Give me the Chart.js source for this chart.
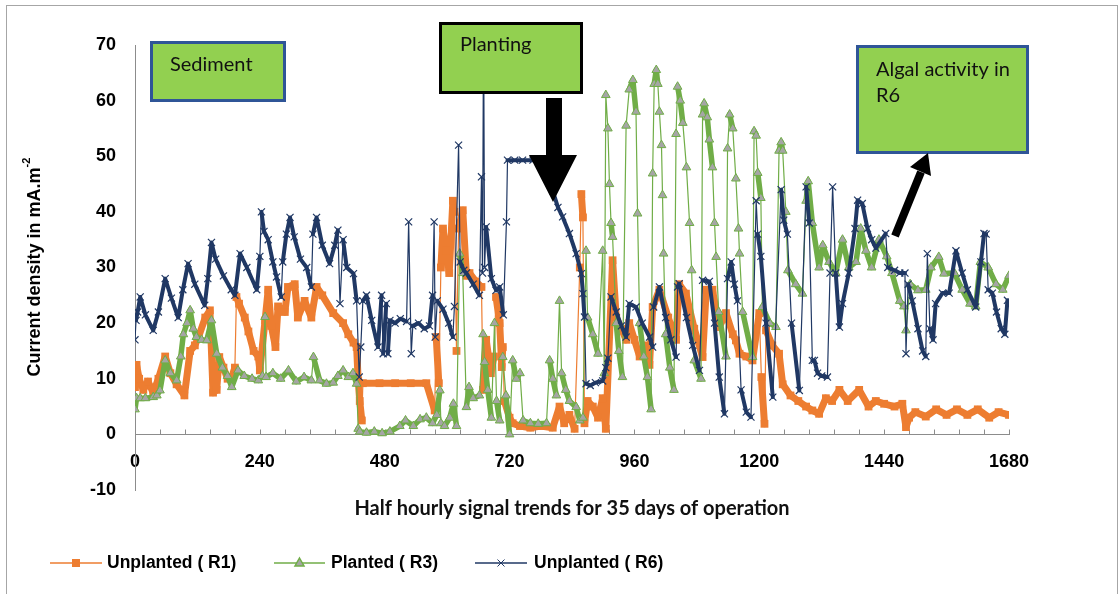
<!DOCTYPE html>
<html>
<head>
<meta charset="utf-8">
<title>Current density - half hourly signal</title>
<script src="https://cdn.jsdelivr.net/npm/chart.js@4.4.1/dist/chart.umd.min.js"></script>
<style>
    html, body { margin: 0; padding: 0; background: #fff; }
    #wrap { position: relative; width: 1120px; height: 594px; }
</style>
</head>
<body>
<div id="wrap"><canvas id="densityChart" width="1120" height="594"></canvas></div>
<script>
    // [half hour index, current density mA.m-2]
    var unplantedR1 = [[0,8.5],[3,12.5],[8,10],[16,8],[25,9.5],[35,7.5],[45,10],[58,14],[68,11],[80,9],[95,7],[106,15],[115,16],[122,17.5],[135,21],[144,22.3],[150,7.5],[157,8],[162,13.9],[170,12],[178,10],[186,10.3],[192,12],[195,24.7],[200,23.5],[211,21],[218,18.5],[228,15],[237,14],[240,11.5],[250,20.5],[256,26],[262,19.5],[270,15.7],[275,23],[288,22],[294,26.5],[307,27],[313,21],[326,24],[339,21],[349,26.5],[360,25],[381,21.8],[400,20],[410,18],[420,16.5],[426,15.7],[429,9.7],[432,6],[436,2.5],[438,9.2],[470,9.2],[500,9.2],[530,9.2],[560,9.2],[576,4.3],[579,17.5],[584,9.2],[588,30],[592,37],[598,33],[604,29],[611,42],[614,40],[618,15],[622,37],[630,40.3],[637,28.5],[643,29],[655,27.5],[666,26.5],[669,8],[675,17],[684,11],[690,14],[694,24.7],[701,20],[705,12.1],[707,15.7],[710,6],[720,3],[726,2],[740,1.5],[760,1.2],[780,1.5],[803,1.2],[816,5],[825,2],[835,3.5],[845,1],[855,30],[858,43.2],[861,39],[864,2],[870,6],[880,5],[890,3],[899,6.5],[905,1],[918,31.3],[925,21],[935,19],[944,17],[950,20],[960,17],[970,14],[980,16],[989,12.5],[995,22.9],[1008,26],[1025,21],[1040,17],[1046,27],[1059,25.3],[1075,19],[1091,13.9],[1098,26],[1110,26],[1123,19.3],[1136,21.8],[1149,18],[1155,16.9],[1162,14.5],[1175,14],[1187,13.3],[1200,21.8],[1204,10.3],[1210,1.9],[1213,18.7],[1225,16],[1238,14.5],[1245,9],[1260,7],[1275,6],[1290,5],[1302,4.3],[1315,3.7],[1328,6.5],[1340,6],[1354,8],[1370,6],[1392,8],[1410,5],[1424,6],[1440,5.5],[1460,5],[1475,5.5],[1482,1.3],[1488,3],[1500,4],[1520,3.2],[1540,4.5],[1560,3.5],[1580,4.5],[1600,3.5],[1620,4.5],[1642,3],[1660,4],[1680,3.5]];

    var plantedR3 = [[0,4.5],[3,6.5],[10,6.5],[20,6.5],[35,6.7],[42,7],[48,7.9],[58,13.3],[68,11],[80,9.7],[88,14],[93,18],[100,20],[106,22.3],[112,19],[118,17.5],[128,17],[138,16.9],[147,20.5],[157,14.5],[168,12],[178,10.5],[186,8.5],[198,11.5],[210,10.5],[225,10],[237,9.7],[245,10.5],[250,21.1],[252,10.3],[265,11],[280,10],[295,11.5],[310,9.5],[325,10.3],[339,9.7],[343,13.9],[355,9.7],[368,9.1],[381,9.3],[390,10.5],[400,11.5],[410,10.3],[419,11],[426,9.1],[429,1],[432,0.5],[445,0.3],[460,0.5],[475,0.2],[490,0.5],[509,1.5],[520,2.5],[535,1.5],[548,2.7],[560,3],[572,2],[580,3.5],[586,7.9],[588,2],[595,1.5],[605,3],[612,5.5],[618,1.5],[624,32.5],[630,29],[637,4.9],[642,8.5],[650,6.5],[662,7],[669,18],[672,13],[678,8],[685,3],[691,20],[695,6],[701,2.5],[707,13.9],[713,7],[720,0],[726,13.3],[733,10],[740,11],[746,2.5],[760,2],[775,1.9],[791,2],[797,13.3],[803,10],[810,7],[816,24],[820,11],[828,8],[835,6],[848,4.9],[855,2.5],[861,3],[867,33],[870,21],[880,18],[890,14.5],[899,33],[902,11],[905,61],[909,55],[912,45],[915,38],[918,35.5],[925,20],[930,15],[937,10.3],[944,55.5],[950,62],[957,63.7],[963,58],[966,39.7],[970,20],[978,14],[985,10.3],[992,4.5],[995,46.9],[998,63],[1002,65.5],[1005,63],[1008,58],[1012,52],[1014,43],[1016,32.5],[1020,18],[1028,12],[1036,8],[1040,54],[1043,62.5],[1048,60],[1053,56],[1060,48],[1066,38],[1070,29.5],[1075,13.3],[1088,10],[1091,57.5],[1094,59.5],[1100,57],[1104,53],[1110,48],[1114,38],[1117,31.9],[1122,22],[1136,14],[1139,51.4],[1143,57.5],[1149,55],[1155,46],[1160,37],[1162,32.5],[1168,22],[1187,13.9],[1190,54.5],[1194,53.7],[1197,47],[1203,42.5],[1206,22.9],[1220,20],[1232,19.3],[1238,51],[1242,52.5],[1245,51],[1251,40],[1255,29.5],[1270,27],[1283,25.3],[1290,42],[1294,45.5],[1302,38],[1315,30],[1322,34],[1334,31],[1347,29],[1360,35],[1372,30],[1386,31],[1395,37],[1405,33],[1416,30],[1430,35],[1445,32],[1455,29],[1470,24],[1478,23],[1482,18.7],[1490,27],[1505,25.9],[1520,26],[1530,30],[1545,31.9],[1555,28.9],[1575,29],[1590,26],[1605,23.5],[1616,23],[1625,31],[1640,30],[1655,27],[1668,26],[1680,28.5]];

    var unplantedR6 = [[0,17],[2,20.5],[5,22],[10,24.7],[20,21.5],[35,18.7],[45,22],[58,28],[70,24.5],[83,21],[92,26],[102,30.7],[115,27],[134,23.2],[140,28],[147,34.5],[155,31.5],[170,28.5],[185,26],[192,25],[202,32.5],[215,30],[234,26],[240,32],[243,40],[248,36.5],[256,35],[265,31],[272,28.3],[281,24.7],[284,31],[291,36],[298,39],[306,35.5],[318,31.5],[330,30],[339,26.5],[342,36],[349,39],[360,34],[374,30.7],[384,34],[390,36.7],[394,23.5],[400,35],[407,30],[420,28.9],[426,24],[431,10.3],[434,15.7],[438,24],[445,25],[455,20.5],[467,15.7],[474,25],[477,14.5],[483,23.5],[486,14.5],[490,20.5],[500,20],[510,20.8],[522,20.3],[526,38.2],[531,14.5],[534,19.5],[545,20],[556,19],[566,19.5],[572,25],[575,38.2],[577,17.5],[581,24],[592,22.5],[603,20],[611,17.5],[614,23],[622,52],[625,31],[632,29.5],[637,29],[650,27],[662,25],[666,46.3],[668,29],[670,75],[672,30],[675,37.3],[685,28],[694,25.9],[701,26.5],[708,21.5],[714,38.2],[716,49.3],[730,49.3],[745,49.3],[765,49.3],[780,49],[803,43.8],[813,40.8],[822,39.1],[835,36.1],[848,32.5],[858,28.9],[861,25.3],[864,21.1],[867,9.1],[875,8.8],[885,9.3],[899,9.6],[905,12],[909,13.7],[915,24.7],[925,22],[935,19.5],[944,17.5],[950,23.5],[963,22.9],[975,20],[989,17.5],[995,15.7],[997,22.9],[1008,26.5],[1020,21],[1030,17],[1040,13.9],[1043,26.5],[1046,27.1],[1060,21],[1072,16],[1085,11.5],[1091,27.7],[1104,27.5],[1114,20],[1123,10.3],[1133,3.7],[1139,28],[1146,31],[1152,27],[1158,24],[1165,8],[1175,4],[1184,3.1],[1194,42],[1197,36],[1203,32],[1213,20],[1226,6.7],[1242,44],[1247,38.5],[1254,36],[1262,20],[1277,7.9],[1290,44.5],[1296,38],[1302,13.3],[1306,13.3],[1312,11],[1320,10.5],[1331,10.3],[1336,29],[1341,44.5],[1347,29],[1354,19.3],[1360,23.5],[1372,29],[1384,37],[1389,42.1],[1398,41.5],[1408,37],[1416,35],[1424,33.5],[1443,36.1],[1447,30],[1460,29.5],[1470,29],[1480,29],[1482,14.5],[1486,27],[1494,24],[1505,19],[1514,15],[1520,14],[1523,32.5],[1528,19],[1534,17],[1539,23.5],[1552,25.4],[1565,25.4],[1578,33],[1590,29],[1600,26],[1616,22.9],[1626,31],[1632,36.1],[1636,36],[1640,26],[1648,25.4],[1656,22],[1665,19],[1672,18],[1677,24.1]];

    var xTickLabels = [0, 240, 480, 720, 960, 1200, 1440, 1680];
    var seriesNames = ['Unplanted ( R1)', 'Planted ( R3)', 'Unplanted ( R6)'];

    var ORANGE = '#ED7D31';
    var GREEN = '#70AD47';
    var GREY = '#A5A5A5';
    var NAVY = '#203864';
    var AXIS = '#8C8C8C';
    var BOX_GREEN = '#92D050';
    var TICK_FONT = "'Liberation Sans Narrow', 'Liberation Sans', Arial, sans-serif";
    var NOTE_FONT = "Lato, 'Open Sans', sans-serif";

    function toPoints(rows) {
        var pts = [];
        for (var i = 0; i < rows.length; i++) {
            pts.push({x: rows[i][0], y: rows[i][1]});
        }
        return pts;
    }

    // the original has a marker every half hour: slow drift reads as a thick band,
    // a sudden jump (big change per half hour) stays a thin line
    function bandWidth(rows, thick, maxRate) {
        return function (seg) {
            var a = rows[seg.p0DataIndex];
            var b = rows[seg.p1DataIndex];
            var rate = Math.abs(b[1] - a[1]) / Math.max(b[0] - a[0], 1);
            return rate > maxRate ? 1.2 : thick;
        };
    }

    function drawMarker(ctx, style, x, y) {
        ctx.save();
        if (style === 'rect') {
            ctx.fillStyle = ORANGE;
            ctx.fillRect(x - 4, y - 4, 8, 8);
        } else if (style === 'triangle') {
            ctx.fillStyle = GREY;
            ctx.strokeStyle = GREEN;
            ctx.beginPath();
            ctx.moveTo(x, y - 5);
            ctx.lineTo(x + 4.5, y + 3);
            ctx.lineTo(x - 4.5, y + 3);
            ctx.closePath();
            ctx.fill();
            ctx.stroke();
        } else {
            ctx.strokeStyle = NAVY;
            ctx.lineWidth = 1;
            ctx.beginPath();
            ctx.moveTo(x - 3.5, y - 3.5); ctx.lineTo(x + 3.5, y + 3.5);
            ctx.moveTo(x + 3.5, y - 3.5); ctx.lineTo(x - 3.5, y + 3.5);
            ctx.stroke();
        }
        ctx.restore();
    }

    function drawNote(ctx, box, border, lines) {
        ctx.save();
        ctx.fillStyle = BOX_GREEN;
        ctx.fillRect(box[0], box[1], box[2], box[3]);
        ctx.strokeStyle = border;
        ctx.lineWidth = 3;
        ctx.strokeRect(box[0] + 1.5, box[1] + 1.5, box[2] - 3, box[3] - 3);
        ctx.fillStyle = '#111';
        ctx.font = '20px ' + NOTE_FONT;
        ctx.textBaseline = 'alphabetic';
        for (var i = 0; i < lines.length; i++) {
            ctx.fillText(lines[i][0], lines[i][1], lines[i][2]);
        }
        ctx.restore();
    }

    var decorations = {
        id: 'decorations',
        beforeDraw: function (chart) {
            var ctx = chart.ctx;
            ctx.save();
            ctx.fillStyle = '#fff';
            ctx.fillRect(0, 0, chart.width, chart.height);
            ctx.strokeStyle = '#A6A6A6';
            ctx.lineWidth = 1;
            ctx.strokeRect(6.5, 5.5, 1111, 620);
            ctx.restore();
        },
        beforeDatasetsDraw: function (chart) {
            // small tick marks standing up on the zero line, one per day
            var ctx = chart.ctx;
            var xs = chart.scales.x;
            var y0 = Math.round(chart.scales.y.getPixelForValue(0)) + 0.5;
            ctx.save();
            ctx.strokeStyle = AXIS;
            ctx.lineWidth = 1;
            ctx.beginPath();
            for (var i = 0; i < xs.ticks.length; i++) {
                var px = Math.round(xs.getPixelForValue(xs.ticks[i].value)) + 0.5;
                ctx.moveTo(px, y0);
                ctx.lineTo(px, y0 - 5);
            }
            ctx.stroke();
            ctx.restore();
        },
        afterDatasetsDraw: function (chart) {
            var ctx = chart.ctx;
            drawNote(ctx, [150, 41, 136, 61], '#2F5597', [['Sediment', 170, 71]]);
            drawNote(ctx, [439, 22, 144, 72], '#000', [['Planting', 460, 51]]);
            drawNote(ctx, [856, 45, 173, 109], '#2F5597', [['Algal activity in', 876, 76], ['R6', 876, 102]]);

            ctx.save();
            ctx.fillStyle = '#000';
            // block arrow pointing down at planting
            ctx.beginPath();
            ctx.moveTo(546, 98); ctx.lineTo(562, 98); ctx.lineTo(562, 155);
            ctx.lineTo(577, 155); ctx.lineTo(553, 202); ctx.lineTo(529, 155);
            ctx.lineTo(546, 155); ctx.closePath();
            ctx.fill();
            // arrow towards algal activity box
            ctx.strokeStyle = '#000';
            ctx.lineWidth = 8;
            ctx.beginPath();
            ctx.moveTo(895, 236); ctx.lineTo(921, 172);
            ctx.stroke();
            ctx.beginPath();
            ctx.moveTo(928, 153); ctx.lineTo(931, 176); ctx.lineTo(910, 167);
            ctx.closePath();
            ctx.fill();
            ctx.restore();
        },
        afterDraw: function (chart) {
            var ctx = chart.ctx;
            ctx.save();
            ctx.fillStyle = '#000';
            // y title with superscript
            ctx.translate(35, 267);
            ctx.rotate(-Math.PI / 2);
            var big = "bold 18px 'Liberation Sans', Arial, sans-serif";
            var small = "bold 11px 'Liberation Sans', Arial, sans-serif";
            var main = 'Current density in mA.m';
            ctx.font = big;
            var w1 = ctx.measureText(main).width;
            ctx.font = small;
            var w2 = ctx.measureText('-2').width;
            var start = -(w1 + w2) / 2;
            ctx.textBaseline = 'middle';
            ctx.textAlign = 'left';
            ctx.font = big;
            ctx.fillText(main, start, 0);
            ctx.font = small;
            ctx.fillText('-2', start + w1, -8);
            ctx.restore();

            ctx.save();
            ctx.fillStyle = '#111';
            ctx.font = 'bold 20px ' + NOTE_FONT;
            ctx.textAlign = 'center';
            ctx.textBaseline = 'middle';
            ctx.fillText('Half hourly signal trends for 35 days of operation', 572, 509);
            ctx.restore();

            // legend
            var items = [
                {x1: 50, x2: 102, tx: 107, color: ORANGE, style: 'rect'},
                {x1: 274, x2: 325, tx: 331, color: GREEN, style: 'triangle'},
                {x1: 475, x2: 527, tx: 534, color: NAVY, style: 'cross'}
            ];
            ctx.save();
            for (var i = 0; i < items.length; i++) {
                var it = items[i];
                ctx.strokeStyle = it.color;
                ctx.lineWidth = 1.5;
                ctx.beginPath();
                ctx.moveTo(it.x1, 563); ctx.lineTo(it.x2, 563);
                ctx.stroke();
                drawMarker(ctx, it.style, (it.x1 + it.x2) / 2, 563);
                ctx.fillStyle = '#000';
                ctx.font = 'bold 17.5px ' + TICK_FONT;
                ctx.textBaseline = 'middle';
                ctx.fillText(seriesNames[i], it.tx, 563);
            }
            ctx.restore();
        }
    };

    var densityCanvas = document.getElementById('densityChart').getContext('2d');
    var densityChart = new Chart(densityCanvas, {
        type: 'line',
        data: {
            datasets: [{
                label: seriesNames[0],
                data: toPoints(unplantedR1),
                borderColor: ORANGE,
                backgroundColor: ORANGE,
                borderWidth: 1.5,
                borderJoinStyle: 'round',
                borderCapStyle: 'round',
                segment: {borderWidth: bandWidth(unplantedR1, 7, 2.5)},
                pointStyle: 'rect',
                pointRadius: 5.5,
                pointBorderWidth: 0,
                order: 2
            }, {
                label: seriesNames[1],
                data: toPoints(plantedR3),
                borderColor: GREEN,
                backgroundColor: GREY,
                pointBorderColor: GREEN,
                pointBackgroundColor: GREY,
                borderWidth: 1.2,
                borderJoinStyle: 'round',
                borderCapStyle: 'round',
                segment: {borderWidth: bandWidth(plantedR3, 5.5, 1.0)},
                pointBorderWidth: 1,
                pointStyle: 'triangle',
                pointRadius: 5,
                order: 1
            }, {
                label: seriesNames[2],
                data: toPoints(unplantedR6),
                borderColor: NAVY,
                backgroundColor: NAVY,
                borderWidth: 1.3,
                borderJoinStyle: 'round',
                borderCapStyle: 'round',
                segment: {borderWidth: bandWidth(unplantedR6, 4, 1.5)},
                pointBorderWidth: 1.2,
                pointStyle: 'crossRot',
                pointRadius: 5,
                order: 0
            }]
        },
        options: {
            responsive: false,
            animation: false,
            devicePixelRatio: 1,
            layout: {
                padding: {left: 0, top: 45, right: 111, bottom: 104}
            },
            plugins: {
                legend: {display: false},
                tooltip: {enabled: false}
            },
            scales: {
                x: {
                    type: 'linear',
                    min: 0,
                    max: 1680,
                    position: {y: 0},
                    afterFit: function (scale) { scale.height = 0; },
                    grid: {display: false, drawTicks: false},
                    border: {display: true, color: AXIS, width: 1},
                    ticks: {
                        stepSize: 48,
                        autoSkip: false,
                        maxRotation: 0,
                        padding: 17,
                        color: '#000',
                        font: {family: TICK_FONT, size: 18, weight: 'bold'},
                        callback: function (value) {
                            return xTickLabels.indexOf(value) >= 0 ? String(value) : '';
                        }
                    }
                },
                y: {
                    min: -10,
                    max: 70,
                    afterFit: function (scale) { scale.width = 135; },
                    grid: {display: false, drawTicks: false},
                    border: {display: true, color: AXIS, width: 1},
                    ticks: {
                        stepSize: 10,
                        padding: 19,
                        color: '#000',
                        font: {family: TICK_FONT, size: 18, weight: 'bold'}
                    }
                }
            }
        },
        plugins: [decorations]
    });
</script>
</body>
</html>
